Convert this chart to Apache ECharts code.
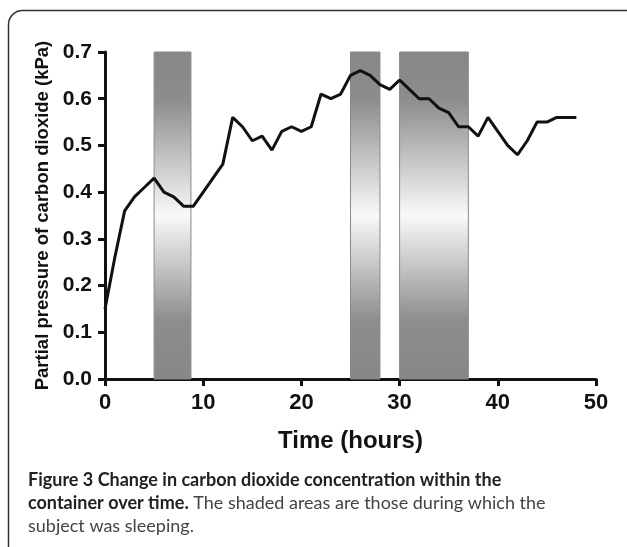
<!DOCTYPE html>
<html>
<head>
<meta charset="utf-8">
<script src="https://cdn.jsdelivr.net/npm/echarts@6/dist/echarts.min.js"></script>
<style>
  html, body { margin: 0; padding: 0; background: #fff; }
  #chart { width: 627px; height: 547px; }
</style>
</head>
<body>
<div id="chart"></div>
<script>
const hours = [0, 1, 2, 3, 4, 5, 6, 7, 8, 9, 10, 11, 12, 13, 14, 15, 16, 17, 18, 19, 20,
  21, 22, 23, 24, 25, 26, 27, 28, 29, 30, 31, 32, 33, 34, 35, 36, 37, 38, 39, 40,
  41, 42, 43, 44, 45, 46, 47, 48]
const co2 = [0.15, 0.26, 0.36, 0.39, 0.41, 0.43, 0.40, 0.39, 0.37, 0.37, 0.40, 0.43, 0.46,
  0.56, 0.54, 0.51, 0.52, 0.49, 0.53, 0.54, 0.53, 0.54, 0.61, 0.60, 0.61, 0.65, 0.66,
  0.65, 0.63, 0.62, 0.64, 0.62, 0.60, 0.60, 0.58, 0.57, 0.54, 0.54, 0.52, 0.56, 0.53,
  0.50, 0.48, 0.51, 0.55, 0.55, 0.56, 0.56, 0.56]
// sleeping periods (hours)
const sleepStart = [5, 25, 30]
const sleepEnd = [8.75, 28, 37]

const chart = echarts.init(document.getElementById('chart'))

const bandColor = new echarts.graphic.LinearGradient(0, 0, 0, 1, [
  { offset: 0, color: '#878787' },
  { offset: 0.15, color: '#8d8d8d' },
  { offset: 0.5, color: '#f9f9f9' },
  { offset: 0.82, color: '#8d8d8d' },
  { offset: 1, color: '#878787' }
])

const option = {
  animation: false,
  grid: { left: 105, right: 31, top: 52, bottom: 168 },
  xAxis: {
    type: 'value',
    min: 0, max: 50, interval: 10,
    name: 'Time (hours)',
    nameLocation: 'middle',
    nameGap: 50,
    nameTextStyle: { fontFamily: 'Liberation Sans', fontWeight: 'bold', fontSize: 24, color: '#111' },
    axisLine: { lineStyle: { color: '#111', width: 3 } },
    axisTick: { length: 7, lineStyle: { color: '#111', width: 3 } },
    axisLabel: { fontFamily: 'Liberation Sans', fontWeight: 'bold', fontSize: 22, color: '#111', margin: 13 },
    splitLine: { show: false }
  },
  yAxis: {
    type: 'value',
    min: 0, max: 0.7, interval: 0.1,
    name: 'Partial pressure of carbon dioxide (kPa)',
    nameLocation: 'middle',
    nameGap: 51,
    nameTextStyle: { fontFamily: 'Liberation Sans', fontWeight: 'bold', fontSize: 18.5, color: '#111' },
    axisLine: { show: true, lineStyle: { color: '#111', width: 3 } },
    axisTick: { show: true, length: 7, lineStyle: { color: '#111', width: 3 } },
    axisLabel: {
      fontFamily: 'Liberation Sans', fontWeight: 'bold', fontSize: 21, color: '#111', margin: 13,
      formatter: v => v.toFixed(1)
    },
    splitLine: { show: false }
  },
  series: [{
    type: 'line',
    data: hours.map((h, i) => [h, co2[i]]),
    symbol: 'none',
    lineStyle: { color: '#111', width: 3 },
    z: 3,
    markArea: {
      silent: true,
      itemStyle: { color: bandColor, borderColor: '#8a8a8a', borderWidth: 1 },
      data: sleepStart.map((s, i) => [{ xAxis: s, yAxis: 0 }, { xAxis: sleepEnd[i], yAxis: 0.7 }])
    }
  }],
  graphic: [
    {
      type: 'rect',
      shape: { x: 8.5, y: 10.5, width: 640, height: 560, r: 14 },
      style: { fill: 'none', stroke: '#333', lineWidth: 1.5 },
      silent: true
    },
    {
      type: 'text',
      left: 28, top: 471,
      style: {
        text: '{b|Figure 3 Change in carbon dioxide concentration within the}\n{b|container over time.}{r| The shaded areas are those during which the}\n{r|subject was sleeping.}',
        rich: {
          b: { fontFamily: 'Lato', fontWeight: 'bold', fontSize: 18, lineHeight: 23, fill: '#222' },
          r: { fontFamily: 'Lato', fontSize: 18, lineHeight: 23, fill: '#444' }
        }
      }
    }
  ]
}

chart.setOption(option)
</script>
</body>
</html>
